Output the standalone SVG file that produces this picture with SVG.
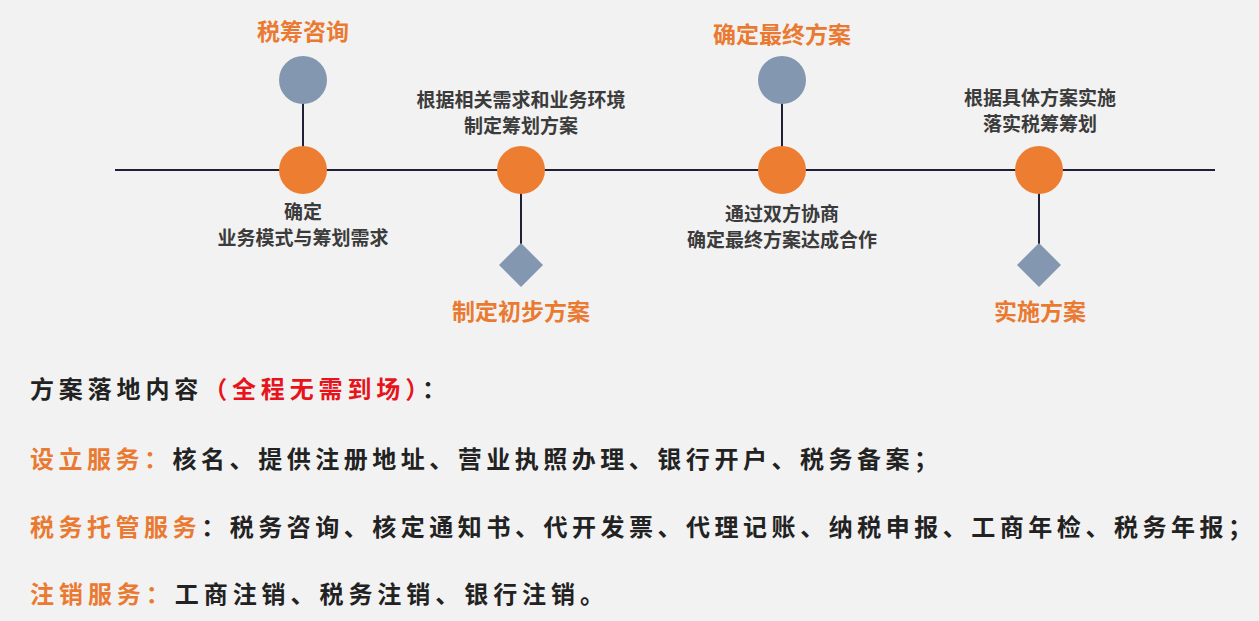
<svg xmlns="http://www.w3.org/2000/svg" width="1259" height="621" viewBox="0 0 1259 621">
<style>
text{font-family:"Noto Sans CJK SC","Liberation Sans",sans-serif;font-weight:bold}
.t{font-size:23px;fill:#ea7a31;text-anchor:middle}
.d{font-size:19px;fill:#3b3b3b;text-anchor:middle}
.b{font-size:24px;fill:#222}
.o{fill:#ea7a31}
.r{fill:#e8141b}
.oc{fill:#ed7d31}
.gc{fill:#8497b0}
.ln{stroke:#1f1f35;stroke-width:2}
</style>
<rect width="1259" height="621" fill="#f2f2f2"/>
<g id="connectors">
<line class="ln" x1="115" y1="170" x2="1215" y2="170" stroke-width="1.5"/>
<line class="ln" x1="303" y1="80" x2="303" y2="170"/>
<line class="ln" x1="521" y1="170" x2="521" y2="265"/>
<line class="ln" x1="782" y1="80" x2="782" y2="170"/>
<line class="ln" x1="1039" y1="170" x2="1039" y2="265"/>
</g>
<g id="n1"><circle class="gc" cx="303" cy="80" r="24"/><text class="t" x="303" y="40">税筹咨询</text></g>
<g id="n2"><circle class="oc" cx="303" cy="170" r="24"/><text class="d" x="303" y="219">确定</text><text class="d" x="303" y="245">业务模式与筹划需求</text></g>
<g id="n3"><circle class="oc" cx="521" cy="170" r="24"/><text class="d" x="521" y="107">根据相关需求和业务环境</text><text class="d" x="521" y="133">制定筹划方案</text></g>
<g id="n4"><polygon class="gc" points="521,243 543,265 521,287 499,265"/><text class="t" x="521" y="320">制定初步方案</text></g>
<g id="n5"><circle class="gc" cx="782" cy="80" r="24"/><text class="t" x="782" y="43">确定最终方案</text></g>
<g id="n6"><circle class="oc" cx="782" cy="170" r="24"/><text class="d" x="782" y="221">通过双方协商</text><text class="d" x="782" y="247">确定最终方案达成合作</text></g>
<g id="n7"><circle class="oc" cx="1039" cy="170" r="24"/><text class="d" x="1040" y="105">根据具体方案实施</text><text class="d" x="1040" y="131">落实税筹筹划</text></g>
<g id="n8"><polygon class="gc" points="1039,243 1061,265 1039,287 1017,265"/><text class="t" x="1040" y="320">实施方案</text></g>
<text class="b" x="30" y="398" textLength="416" lengthAdjust="spacing">方案落地内容<tspan class="r">（全程无需到场）</tspan>：</text>
<text class="b" x="30" y="468" textLength="908" lengthAdjust="spacing"><tspan class="o">设立服务：</tspan>核名、提供注册地址、营业执照办理、银行开户、税务备案；</text>
<text class="b" x="30" y="536" textLength="1222" lengthAdjust="spacing"><tspan class="o">税务托管服务</tspan>：税务咨询、核定通知书、代开发票、代理记账、纳税申报、工商年检、税务年报；</text>
<text class="b" x="30" y="603" textLength="574" lengthAdjust="spacing"><tspan class="o">注销服务：</tspan>工商注销、税务注销、银行注销。</text>
</svg>
